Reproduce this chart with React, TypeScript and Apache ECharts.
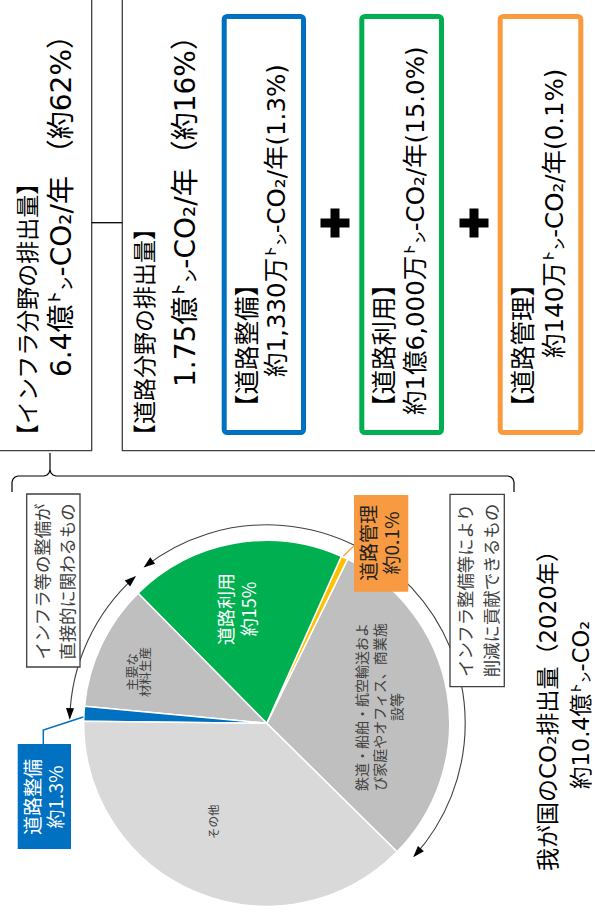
import React, { useEffect, useRef } from "react";
import * as echarts from "echarts";

// ---- data ----
const sliceNames = [
  "鉄道・船舶・航空輸送および家庭やオフィス、商業施設等",
  "道路管理",
  "道路利用",
  "主要な材料生産",
  "道路整備",
  "その他",
];
const sliceValues = [30.1, 0.6, 19.1, 11.1, 1.3, 37.8];

const headerInfra = ["【インフラ分野の排出量】", "6.4億㌧-CO₂/年 （約62%）"];
const headerRoad = ["【道路分野の排出量】", "1.75億㌧-CO₂/年（約16%）"];
const subBoxes = [
  ["【道路整備】", "約1,330万㌧-CO₂/年(1.3%)"],
  ["【道路利用】", "約1億6,000万㌧-CO₂/年(15.0%)"],
  ["【道路管理】", "約140万㌧-CO₂/年(0.1%)"],
];
const titleLines = ["我が国のCO₂排出量（2020年）", "約10.4億㌧-CO₂"];
const pieLabels = [
  "鉄道・船舶・航空輸送およ\nび家庭やオフィス、商業施\n設等",
  "道路利用\n約15%",
  "主要な\n材料生産",
  "その他",
];
const calloutBlue = "道路整備\n約1.3%";
const calloutOrange = "道路管理\n約0.1%";
const groupDirect = "インフラ等の整備が\n直接的に関わるもの";
const groupReduce = "インフラ整備等により\n削減に貢献できるもの";

// ---- styles ----
const sliceColors = ["#bfbfbf", "#ffc000", "#00b050", "#bfbfbf", "#0070c0", "#d9d9d9"];
const JP = "'Noto Sans CJK JP', sans-serif";
const MIX = "'DejaVu Sans', 'Noto Sans CJK JP', sans-serif";
const DARK = "#404040";
const CX = 266.7;
const CY = 723.3;
const R = 183;
const ROT = Math.PI / 2;
const deg = (d: number) => (d * Math.PI) / 180;

function vtext(text: string, x: number, y: number, size: number, opts: any = {}) {
  return {
    type: "text",
    x,
    y,
    rotation: ROT,
    z: opts.z ?? 20,
    style: {
      text,
      fill: opts.fill ?? "#000",
      fontSize: size,
      fontFamily: opts.family ?? JP,
      align: opts.align ?? "left",
      textAlign: opts.align ?? "left",
      verticalAlign: "middle",
      textVerticalAlign: "middle",
      lineHeight: opts.lineHeight ?? size * 1.2,
    },
  };
}

function arrowHead(r: number, thetaDeg: number, dir: number) {
  const t = deg(thetaDeg);
  const c = Math.cos(t);
  const s = Math.sin(t);
  const px = CX + r * c;
  const py = CY + r * s;
  const tx = -s * dir;
  const ty = c * dir;
  const L = 10;
  const Wd = 4;
  return {
    type: "polygon",
    z: 6,
    shape: {
      points: [
        [px + tx * 1.5, py + ty * 1.5],
        [px - tx * L + c * Wd, py - ty * L + s * Wd],
        [px - tx * L - c * Wd, py - ty * L - s * Wd],
      ],
    },
    style: { fill: "#000" },
  };
}

export default function App() {
  const ref = useRef<HTMLDivElement>(null);
  useEffect(() => {
    if (!ref.current) return;
    const chart = echarts.init(ref.current, undefined, { renderer: "svg" });

    const elements: any[] = [];
    const box = (x: number, y: number, w: number, h: number, stroke: string, lw: number, fill = "#fff", z = 5, r = 0) => ({
      type: "rect",
      z,
      shape: { x, y, width: w, height: h, r },
      style: { fill, stroke, lineWidth: lw },
    });

    // top boxes
    elements.push(box(-3, -5, 94.7, 455.7, DARK, 1.3, "#fff", 1));
    elements.push(box(122.3, -5, 480, 455.7, DARK, 1.3, "#fff", 1));
    elements.push({ type: "line", z: 1, shape: { x1: 91.7, y1: 222.7, x2: 122.3, y2: 222.7 }, style: { stroke: "#000", lineWidth: 1.3 } });

    const subColors = ["#0070c0", "#00b050", "#f99a3c"];
    const subX = [221.7, 359.3, 497.7];
    const subW = [84.3, 84.7, 85.6];
    subX.forEach((x, i) => {
      elements.push(box(x + 2.5, 16.5, subW[i] - 5, 416, subColors[i], 5, "#fff", 2, 3));
    });
    // plus signs
    [335, 474].forEach((px) => {
      elements.push({ type: "rect", z: 2, shape: { x: px - 14.5, y: 223 - 4.5, width: 29, height: 9 }, style: { fill: "#000" } });
      elements.push({ type: "rect", z: 2, shape: { x: px - 4.5, y: 223 - 14.5, width: 9, height: 29 }, style: { fill: "#000" } });
    });

    // header texts
    elements.push(vtext(headerInfra[0], 26, 447, 23));
    elements.push(vtext(headerInfra[1], 61, 377, 28, { family: MIX }));
    elements.push(vtext(headerRoad[0], 142.5, 447, 23));
    elements.push(vtext(headerRoad[1], 185, 387, 28, { family: MIX }));
    const sub1X = [245, 382.5, 521.7];
    const sub2X = [276.7, 415, 554];
    const sub2Y = [377, 415, 358];
    subBoxes.forEach((lines, i) => {
      elements.push(vtext(lines[0], sub1X[i], 419, 24.5));
      elements.push(vtext(lines[1], sub2X[i], sub2Y[i], 24.5, { family: MIX }));
    });

    // brace
    elements.push({
      type: "polyline",
      z: 3,
      shape: {
        points: [
          [12, 492], [12, 482], [13, 479], [15, 477], [18, 476], [44, 476], [47, 475], [49, 473], [50, 470], [50, 453],
        ],
      },
      style: { stroke: "#000", lineWidth: 1.2, fill: null },
    });
    elements.push({
      type: "polyline",
      z: 3,
      shape: {
        points: [
          [50, 470], [51, 473], [53, 475], [56, 476], [508, 476], [511, 477], [513, 479], [514, 482], [514, 492],
        ],
      },
      style: { stroke: "#000", lineWidth: 1.2, fill: null },
    });

    // arcs
    elements.push({
      type: "arc",
      z: 4,
      shape: { cx: CX, cy: CY, r: 197, startAngle: deg(181.5), endAngle: deg(228), clockwise: true },
      style: { stroke: DARK, lineWidth: 1.1, fill: null },
    });
    elements.push(arrowHead(197, 228, 1));
    elements.push(arrowHead(197, 181.5, -1));
    elements.push({
      type: "arc",
      z: 4,
      shape: { cx: CX, cy: CY, r: 198.5, startAngle: deg(232.1), endAngle: deg(402), clockwise: true },
      style: { stroke: DARK, lineWidth: 1.1, fill: null },
    });
    elements.push(arrowHead(198.5, 232.1, -1));
    elements.push(arrowHead(198.5, 402, 1));

    // group boxes
    elements.push(box(26.7, 494, 53.3, 173, DARK, 1.3, "#fff", 8));
    elements.push(vtext(groupDirect, 54.2, 581.5, 17.4, { align: "center", lineHeight: 25, fill: DARK }));
    elements.push(box(450, 494.3, 54.3, 192.4, DARK, 1.3, "#fff", 8));
    elements.push(vtext(groupReduce, 477.5, 590.5, 17.4, { align: "center", lineHeight: 26, fill: DARK }));

    // callouts
    elements.push({
      type: "polyline",
      z: 8,
      shape: { points: [[43.3, 744], [43.3, 730], [83.3, 717]] },
      style: { stroke: "#0070c0", lineWidth: 1.5, fill: null },
    });
    elements.push(box(17.7, 744, 53.3, 105, "#0070c0", 0, "#0070c0", 8));
    elements.push(vtext(calloutBlue, 43.3, 797, 19, { align: "center", lineHeight: 23, fill: "#fff" }));
    elements.push({
      type: "line",
      z: 8,
      shape: { x1: 355, y1: 545, x2: 343.3, y2: 556 },
      style: { stroke: "#f89a42", lineWidth: 1.2 },
    });
    elements.push(box(354, 495, 54.3, 96.7, "#f89a42", 0, "#f89a42", 8));
    elements.push(vtext(calloutOrange, 379, 543, 19, { align: "center", lineHeight: 23.5, fill: "#222" }));

    // pie inner labels
    elements.push(vtext(pieLabels[0], 378.5, 707, 14, { align: "center", lineHeight: 17.5, fill: DARK }));
    elements.push(vtext(pieLabels[1], 236.5, 609, 18, { align: "center", lineHeight: 23, fill: "#fff" }));
    elements.push(vtext(pieLabels[2], 138, 672, 12.5, { align: "center", lineHeight: 12.5, fill: DARK }));
    elements.push(vtext(pieLabels[3], 212.8, 821.7, 11.5, { align: "center", fill: DARK }));

    // title
    elements.push(vtext(titleLines[0], 548, 871, 23, { family: MIX }));
    elements.push(vtext(titleLines[1], 581, 789, 22.5, { family: MIX }));

    chart.setOption({
      animation: false,
      series: [
        {
          type: "pie",
          center: [CX, CY],
          radius: R,
          startAngle: -44.6,
          clockwise: false,
          silent: true,
          z: 3,
          label: { show: false },
          labelLine: { show: false },
          emphasis: { disabled: true },
          itemStyle: { borderColor: "#fff", borderWidth: 1.5 },
          data: sliceNames.map((name, i) => ({
            name,
            value: sliceValues[i],
            itemStyle: { color: sliceColors[i] },
          })),
        },
      ],
      graphic: { elements },
    });
    return () => chart.dispose();
  }, []);
  return <div ref={ref} style={{ position: "absolute", left: 0, top: 0, width: 595, height: 912 }} />;
}
